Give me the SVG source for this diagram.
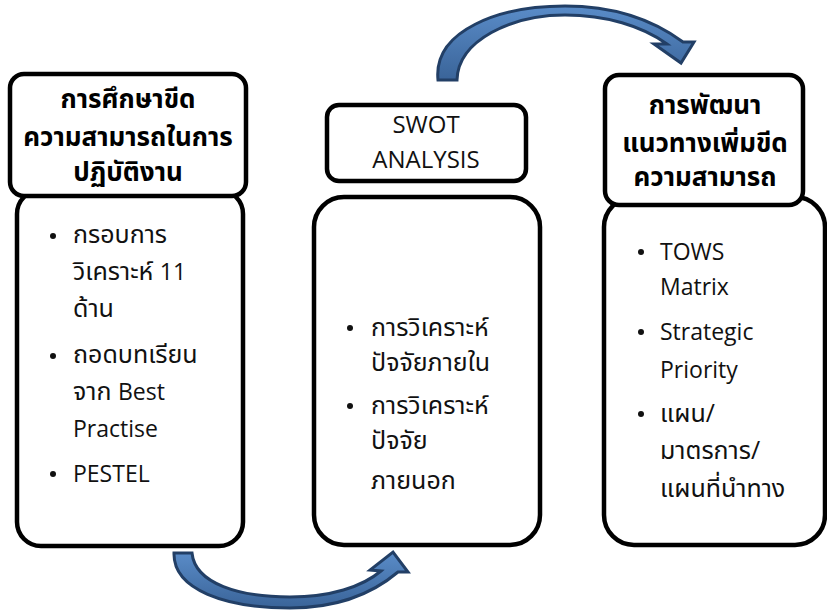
<svg xmlns="http://www.w3.org/2000/svg" width="827" height="611" viewBox="0 0 827 611">
<defs>
<style>
.box{fill:#fff;stroke:#000;stroke-width:4.5}
.t{font-family:"Open Sans","Noto Sans Thai","Noto Sans",sans-serif;font-size:25px;fill:#111}
.l{font-size:23px}
.h{font-family:"Open Sans","Noto Sans Thai","Noto Sans",sans-serif;font-size:26px;font-weight:bold;fill:#000;text-anchor:middle}
.c{font-family:"Open Sans","Noto Sans Thai","Noto Sans",sans-serif;font-size:24px;fill:#111;text-anchor:middle}
.b{fill:#111}
.arr{stroke:#223f66;stroke-width:3;stroke-linejoin:miter}
</style>
<linearGradient id="g" x1="0" y1="0" x2="0" y2="1">
<stop offset="0" stop-color="#5a8cc8"/>
<stop offset="1" stop-color="#3a6499"/>
</linearGradient>
</defs>
<rect width="827" height="611" fill="#fff"/>
<g id="connectors">
<path class="arr" fill="url(#g)" d="M438,80 C433,30 500,6 565,6 C618,6 656,22 683,42 L694,42 L681,63 L654,44 L667,44 C642,26 606,15 565,15 C512,15 458,40 457,80 Z"/>
<path class="arr" fill="url(#g)" d="M174,553 C173,590 226,608 290,608 C336,608 372,594 398,572 L408,572 L393,552 L370,570 L381,571 C362,587 330,597 290,597 C240,597 195,584 192,553 Z"/>
</g>
<g id="node-study">
<rect class="box" x="17" y="190" width="226" height="356" rx="24"/>
<rect class="box" x="10" y="74" width="236" height="122" rx="14"/>
<text class="h" x="128" y="108">การศึกษาขีด</text>
<text class="h" x="128" y="146">ความสามารถในการ</text>
<text class="h" x="128" y="181">ปฏิบัติงาน</text>
<circle class="b" cx="53" cy="236" r="3"/>
<text class="t" x="73" y="243">กรอบการ</text>
<text class="t" x="73" y="280">วิเคราะห์ <tspan class="l">11</tspan></text>
<text class="t" x="73" y="317">ด้าน</text>
<circle class="b" cx="53" cy="356" r="3"/>
<text class="t" x="73" y="363">ถอดบทเรียน</text>
<text class="t" x="73" y="400">จาก <tspan class="l">Best</tspan></text>
<text class="t l" x="73" y="437">Practise</text>
<circle class="b" cx="53" cy="474" r="3"/>
<text class="t l" x="73" y="482">PESTEL</text>
</g>
<g id="node-swot">
<rect class="box" x="314" y="197" width="226" height="348" rx="30"/>
<rect class="box" x="327" y="105" width="199" height="76" rx="12"/>
<text class="c" x="426" y="133">SWOT</text>
<text class="c" x="426" y="168">ANALYSIS</text>
<circle class="b" cx="350" cy="328" r="3"/>
<text class="t" x="371" y="336">การวิเคราะห์</text>
<text class="t" x="371" y="371">ปัจจัยภายใน</text>
<circle class="b" cx="350" cy="406" r="3"/>
<text class="t" x="371" y="414">การวิเคราะห์</text>
<text class="t" x="371" y="449">ปัจจัย</text>
<text class="t" x="371" y="489">ภายนอก</text>
</g>
<g id="node-develop">
<rect class="box" x="604" y="197" width="221" height="348" rx="30"/>
<rect class="box" x="605" y="75" width="198" height="130" rx="14"/>
<text class="h" x="705" y="114">การพัฒนา</text>
<text class="h" x="705" y="152">แนวทางเพิ่มขีด</text>
<text class="h" x="705" y="186">ความสามารถ</text>
<circle class="b" cx="641" cy="252" r="3"/>
<text class="t l" x="660" y="260">TOWS</text>
<text class="t l" x="660" y="295">Matrix</text>
<circle class="b" cx="641" cy="332" r="3"/>
<text class="t l" x="660" y="340">Strategic</text>
<text class="t l" x="660" y="378">Priority</text>
<circle class="b" cx="641" cy="414" r="3"/>
<text class="t" x="660" y="422">แผน/</text>
<text class="t" x="660" y="459">มาตรการ/</text>
<text class="t" x="660" y="497">แผนที่นำทาง</text>
</g>
</svg>
